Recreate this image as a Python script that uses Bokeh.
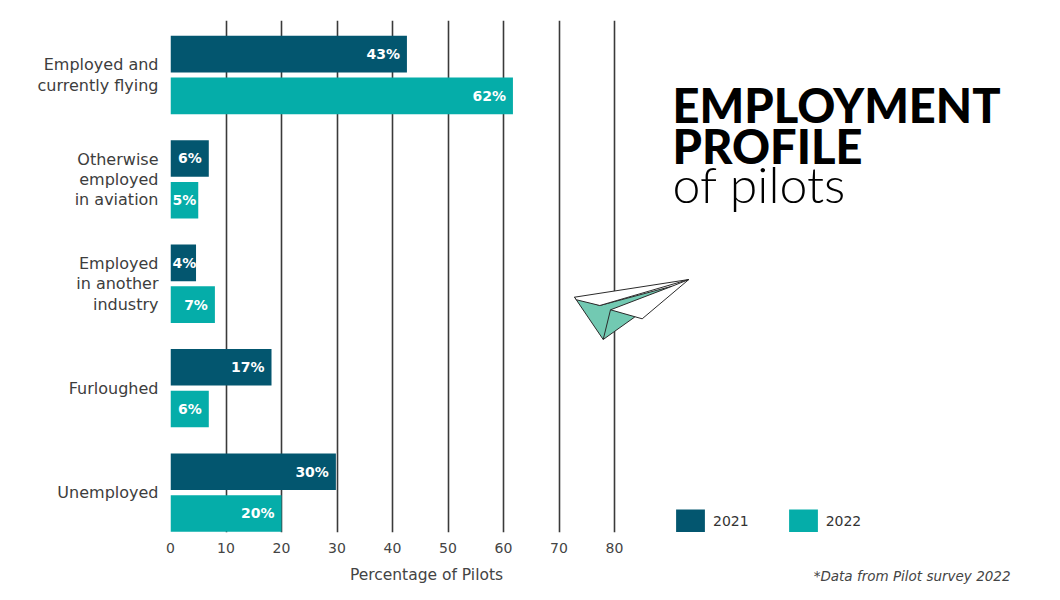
import numpy as np
from bokeh.plotting import figure
from bokeh.models import (Range1d, FixedTicker, Legend, LegendItem,
                          ColumnDataSource)
from bokeh.core.properties import value
from bokeh.embed import file_html
from bokeh.resources import INLINE

# ---------------- data ----------------
categories = ["Employed and\ncurrently flying",
              "Otherwise\nemployed\nin aviation",
              "Employed\nin another\nindustry",
              "Furloughed",
              "Unemployed"]
series_names = ["2021", "2022"]
values_2021 = [42.6, 6.9, 4.6, 18.2, 29.8]
values_2022 = [61.7, 5.0, 8.0, 6.9, 20.0]
labels_2021 = ["43%", "6%", "4%", "17%", "30%"]
labels_2022 = ["62%", "5%", "7%", "6%", "20%"]
x_ticks = [0, 10, 20, 30, 40, 50, 60, 70, 80]
title_lines = ["EMPLOYMENT", "PROFILE"]
subtitle = "of pilots"
x_label = "Percentage of Pilots"
footnote = "*Data from Pilot survey 2022"

# ---------------- style ----------------
DARK = "#03566F"
TEAL = "#05ADA9"
MINT = "#72C9B2"
TXT = "#3d3d3d"
FONT = "DejaVu Sans"

W, H = 1044, 584
FL, FT, FB = 170, 20, 52          # frame borders inside the figure
PX_PER_UNIT = 5.55                # horizontal scale, pixels per percent
frame_w = W - FL
# screen-pixel coordinate system of the frame
SX0, SY0 = FL, FT
SX1, SY1 = W, H - FB

p = figure(width=W, height=H, title=None, output_backend="svg",
           toolbar_location=None,
           x_range=Range1d(0, frame_w / PX_PER_UNIT),
           y_range=Range1d(4.383, -0.522),
           min_border_left=FL, min_border_right=0,
           min_border_top=FT, min_border_bottom=FB)
p.extra_x_ranges = {"px": Range1d(SX0, SX1)}
p.extra_y_ranges = {"px": Range1d(SY1, SY0)}
p.outline_line_color = None
p.background_fill_color = "white"
p.border_fill_color = "white"

# grid
p.ygrid.visible = False
p.xgrid.ticker = FixedTicker(ticks=x_ticks)
p.xgrid.grid_line_color = "#3a3a3a"
p.xgrid.grid_line_width = 1.6

# x axis
p.xaxis.ticker = FixedTicker(ticks=x_ticks)
p.xaxis.axis_line_color = None
p.xaxis.major_tick_line_color = None
p.xaxis.minor_tick_line_color = None
p.xaxis.major_tick_out = 0
p.xaxis.major_tick_in = 0
p.xaxis.major_label_standoff = 10
p.xaxis.major_label_text_font = FONT
p.xaxis.major_label_text_font_size = "14px"
p.xaxis.major_label_text_color = "#444444"

# y axis with category labels
idx = np.arange(len(categories))
p.yaxis.ticker = FixedTicker(ticks=list(idx))
p.yaxis.major_label_overrides = {int(i): c for i, c in zip(idx, categories)}
p.yaxis.axis_line_color = None
p.yaxis.major_tick_line_color = None
p.yaxis.minor_tick_line_color = None
p.yaxis.major_tick_out = 0
p.yaxis.major_tick_in = 0
p.yaxis.major_label_standoff = 12
p.yaxis.major_label_text_font = FONT
p.yaxis.major_label_text_font_size = "16px"
p.yaxis.major_label_text_line_height = 1.07
p.yaxis.major_label_text_color = TXT

# bars
OFF, BH = 0.2, 0.35
renderers = []
for vals, labs, col, off in [(values_2021, labels_2021, DARK, -OFF),
                             (values_2022, labels_2022, TEAL, OFF)]:
    vals = np.array(vals, dtype=float)
    small = vals * PX_PER_UNIT < 36
    src = ColumnDataSource(dict(
        y=idx + off, right=vals, label=labs,
        lx=np.where(small, 0.0, vals),
        lalign=np.where(small, "left", "right").tolist(),
        loff=np.where(small, 2, -7).tolist(),
    ))
    r = p.hbar(y="y", left=0, right="right", height=BH, source=src,
               fill_color=col, line_color=None)
    renderers.append(r)
    p.text(x="lx", y="y", text="label", source=src, x_offset="loff",
           text_align="lalign", text_baseline="middle",
           text_color="white", text_font=value(FONT),
           text_font_style="bold", text_font_size="14px")

# legend
legend = Legend(items=[LegendItem(label=n, renderers=[r])
                       for n, r in zip(series_names, renderers)],
                orientation="horizontal", location=(502, -4),
                glyph_width=36, glyph_height=30, label_height=20,
                label_standoff=5, spacing=36, padding=0, margin=0,
                border_line_color=None, background_fill_alpha=0,
                label_text_font=FONT, label_text_font_size="14px",
                label_text_color="#333333")
p.add_layout(legend)

# title block (screen-pixel coordinates)
p.text(x=[672, 672], y=[104, 145], text=title_lines,
       x_range_name="px", y_range_name="px",
       text_font=value("'Lato Black', 'DejaVu Sans'"), text_font_style="bold",
       text_font_size="47px", text_color="black",
       text_baseline="alphabetic", text_align="left")
p.text(x=[672], y=[183], text=[subtitle],
       x_range_name="px", y_range_name="px",
       text_font=value("'Lato Light', 'DejaVu Sans'"),
       text_font_size="50px", text_color="black",
       text_baseline="alphabetic", text_align="left")

# paper plane decoration (screen-pixel coordinates)
plane_mint = ([574.0, 599.3, 671.7, 634.0, 602.7],
              [296.7, 305.0, 285.7, 316.7, 339.0])
plane_low_wing = ([671.7, 688.3, 641.7, 610.0],
                  [285.7, 279.0, 318.3, 309.3])
plane_top_wing = ([574.0, 688.3, 599.3, 576.0],
                  [296.7, 279.0, 305.0, 299.3])
p.patch(*plane_mint, x_range_name="px", y_range_name="px",
        fill_color=MINT, line_color="#2b2b2b", line_width=1)
p.patch(*plane_low_wing, x_range_name="px", y_range_name="px",
        fill_color="white", line_color="#2b2b2b", line_width=1)
p.patch(*plane_top_wing, x_range_name="px", y_range_name="px",
        fill_color="white", line_color="#2b2b2b", line_width=1)
p.line([610.0, 602.7], [309.3, 339.0], x_range_name="px", y_range_name="px",
       line_color="#2b2b2b", line_width=1)

# axis label and footnote below the frame (overlay level: not clipped)
p.text(x=[426], y=[574], text=[x_label], x_range_name="px", y_range_name="px",
       text_align="center", text_baseline="middle", level="overlay",
       text_font=value(FONT), text_font_size="15.5px", text_color="#444444")
p.text(x=[1010], y=[575], text=[footnote], x_range_name="px",
       y_range_name="px", level="overlay",
       text_align="right", text_baseline="middle",
       text_font=value(FONT), text_font_style="italic",
       text_font_size="13.5px", text_color="#444444")

open("out.html", "w").write(file_html(p, INLINE))
